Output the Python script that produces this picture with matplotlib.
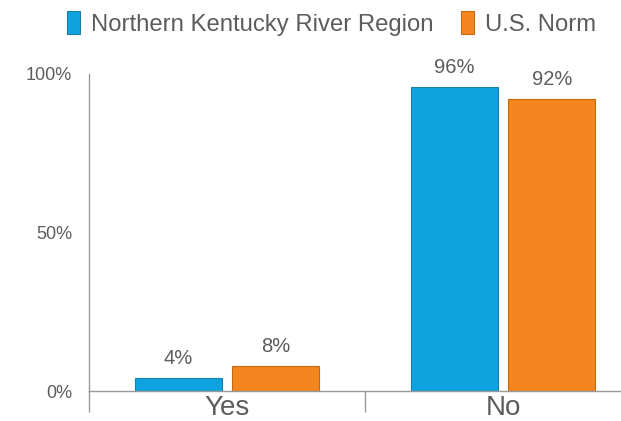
import numpy as np
import matplotlib.pyplot as plt
from matplotlib.ticker import FixedLocator

plt.rcParams['font.family'] = ['Liberation Sans', 'DejaVu Sans']

# survey answers, percent
categories = ['Yes', 'No']
region = [4, 96]
us_norm = [8, 92]
series_names = ['Northern Kentucky River Region', 'U.S. Norm']

blue = '#0ea3de'
orange = '#f5861f'
text_grey = '#5c5c5c'
axis_grey = '#9a9a9a'

fig = plt.figure(figsize=(6.21, 4.21), dpi=100)
ax = fig.add_axes([89 / 621, 30 / 421, (621 - 89) / 621, (391 - 74) / 421])

x = np.arange(len(categories))
w = 0.315
off = 0.176
b1 = ax.bar(x - off, region, w, color=blue, edgecolor='#1b7fa8', linewidth=0.8,
            label=series_names[0])
b2 = ax.bar(x + off, us_norm, w, color=orange, edgecolor='#c76a14', linewidth=0.8,
            label=series_names[1])

for bars, vals in ((b1, region), (b2, us_norm)):
    for r, v in zip(bars, vals):
        ax.annotate(f'{v}%', (r.get_x() + r.get_width() / 2, v),
                    xytext=(0, 14), textcoords='offset points',
                    ha='center', va='center', fontsize=14.5, color=text_grey)

ax.set_xlim(-0.5, 1.427)
ax.set_ylim(0, 100)

# category separators as ticks, names on minor ticks
ax.xaxis.set_major_locator(FixedLocator([-0.5, 0.5]))
ax.xaxis.set_minor_locator(FixedLocator(list(x)))
ax.set_xticklabels(['', ''])
ax.set_xticklabels(categories, minor=True)
ax.tick_params(axis='x', which='major', length=15, width=1, color=axis_grey)
ax.tick_params(axis='x', which='minor', length=0, pad=3, labelsize=20,
               labelcolor=text_grey)

ax.set_yticks([0, 50, 100])
ax.set_yticklabels(['0%', '50%', '100%'])
ax.tick_params(axis='y', length=0, pad=12, labelsize=13, labelcolor=text_grey)
ax.yaxis.set_minor_locator(FixedLocator([0]))
ax.tick_params(axis='y', which='minor', length=4, width=1, color=axis_grey)

for s in ('top', 'right'):
    ax.spines[s].set_visible(False)
for s in ('left', 'bottom'):
    ax.spines[s].set_color(axis_grey)
    ax.spines[s].set_linewidth(1)

fig.legend(handles=[b1, b2], labels=series_names, loc='upper left',
           bbox_to_anchor=(67 / 621, 1 - 11 / 421), ncol=2, frameon=False,
           fontsize=17.2, labelcolor=text_grey, handlelength=0.53,
           handleheight=1.1, handletextpad=0.47, columnspacing=1.15,
           borderpad=0, borderaxespad=0)

fig.savefig('out.png', dpi=100)
